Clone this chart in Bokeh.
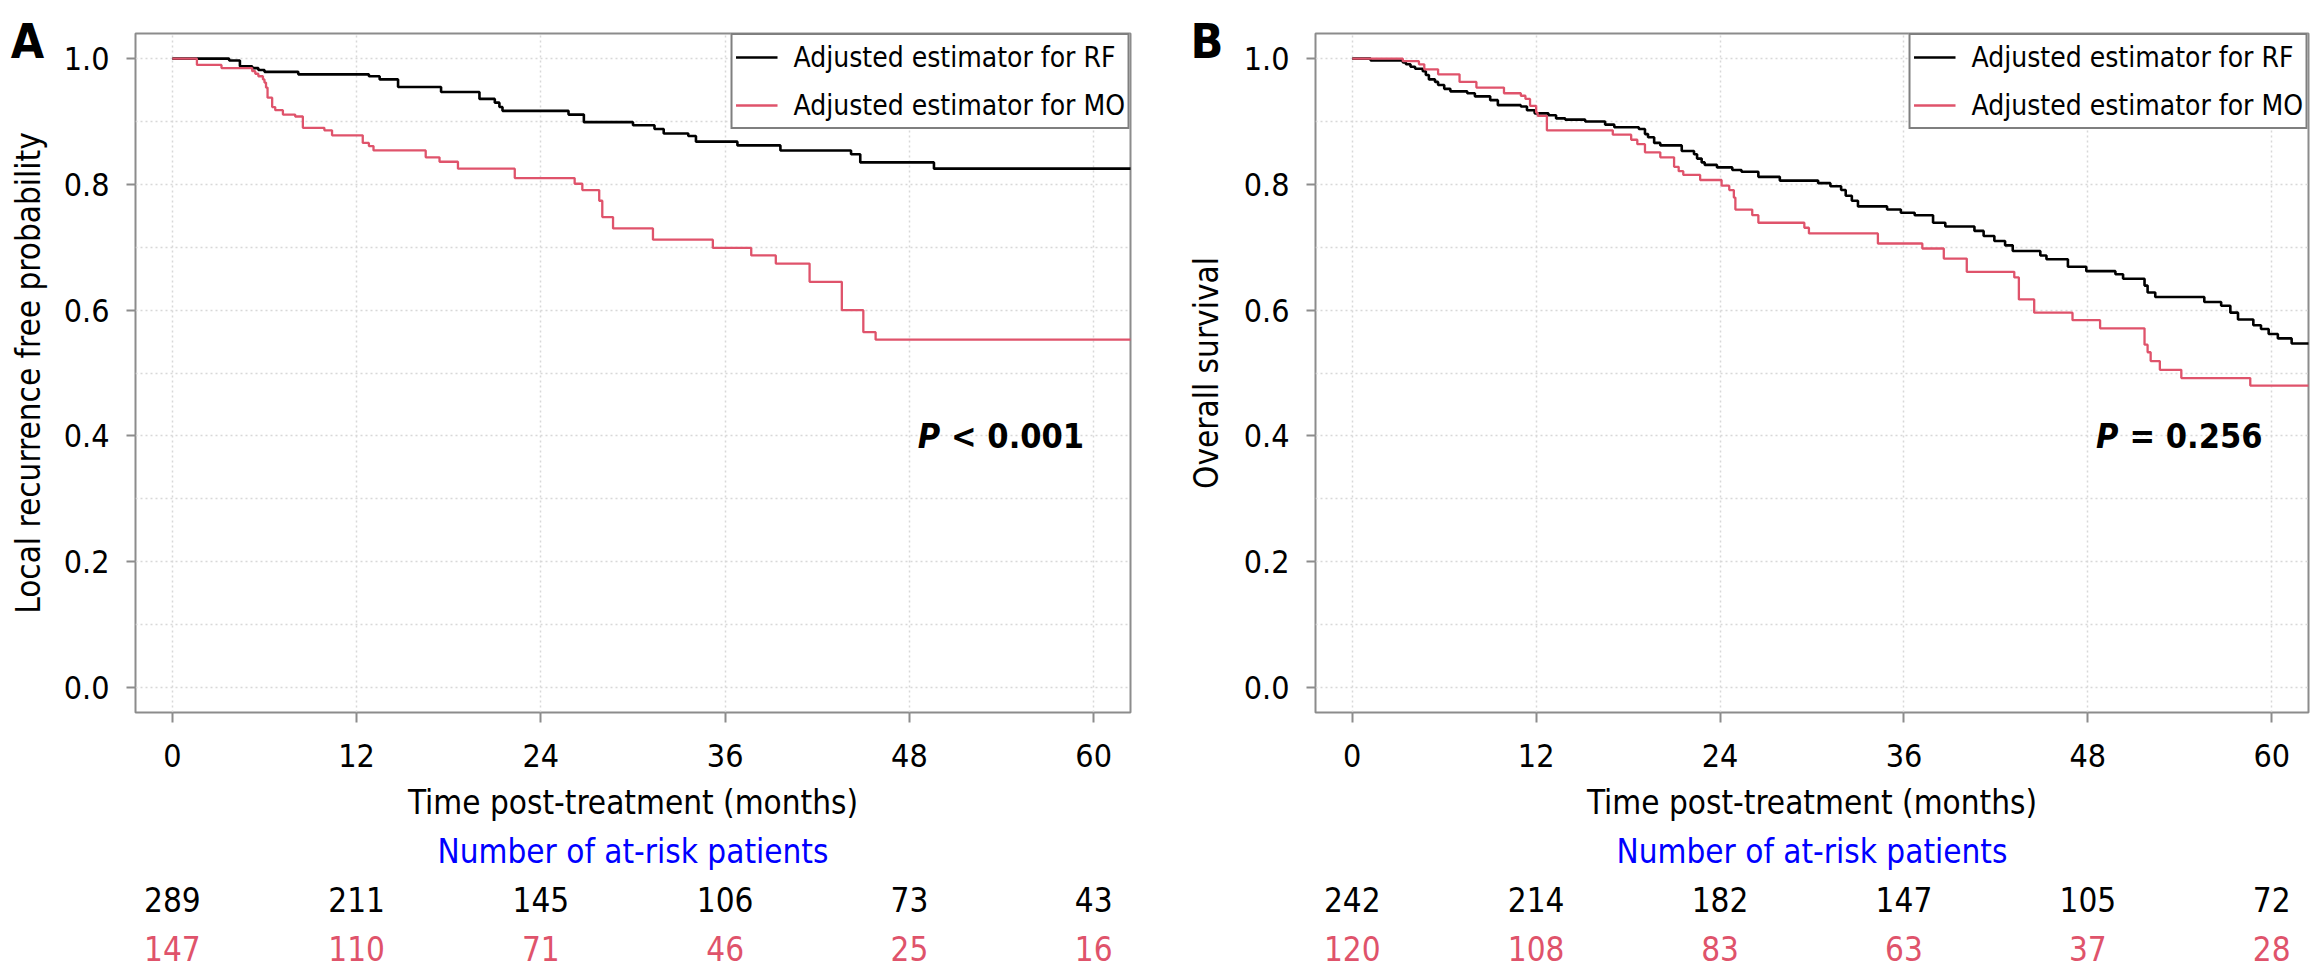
import numpy as np
from bokeh.plotting import figure
from bokeh.models import Range1d, FixedTicker, Label, Legend, LegendItem, PrintfTickFormatter
from bokeh.layouts import row, column
from bokeh.core.properties import value
from bokeh.embed import file_html
from bokeh.resources import INLINE

FONT = "DejaVu Sans Condensed, DejaVu Sans"
RED = "#DF536B"
GRAY = "#8C8C8C"

tick_months = [0, 12, 24, 36, 48, 60]
y_ticks = [0.0, 0.2, 0.4, 0.6, 0.8, 1.0]
y_grid = [0.0, 0.1, 0.2, 0.3, 0.4, 0.5, 0.6, 0.7, 0.8, 0.9, 1.0]

# ---- Panel A: local recurrence free probability ----
a_rf_t = [0, 3.7, 4.4, 5.2, 5.6, 6.0, 8.2, 12.8, 13.5, 14.7, 17.5, 20.0, 21.0, 21.3, 21.5,
          25.8, 26.8, 30.0, 31.4, 32.0, 33.6, 34.1, 36.8, 39.6, 44.2, 44.8, 49.6, 65]
a_rf_s = [1.0, 0.997, 0.988, 0.985, 0.982, 0.979, 0.975, 0.972, 0.967, 0.955, 0.947, 0.936, 0.930, 0.923, 0.917,
          0.911, 0.899, 0.894, 0.888, 0.881, 0.877, 0.868, 0.862, 0.854, 0.848, 0.835, 0.825, 0.825]
a_mo_t = [0, 1.6, 3.2, 5.2, 5.4, 5.6, 5.9, 6.0, 6.1, 6.2, 6.5, 6.7, 7.2, 8.0, 8.5, 9.9, 10.4, 12.4, 12.8,
          13.1, 16.5, 17.4, 18.6, 22.3, 26.2, 26.7, 27.8, 28.0, 28.7, 31.3, 35.2, 37.7, 39.3, 41.5, 43.6,
          45.0, 45.8, 65]
a_mo_s = [1.0, 0.990, 0.985, 0.980, 0.976, 0.972, 0.967, 0.962, 0.954, 0.938, 0.923, 0.918, 0.911, 0.908,
          0.890, 0.886, 0.878, 0.866, 0.861, 0.854, 0.843, 0.836, 0.825, 0.810, 0.801, 0.791, 0.774, 0.748,
          0.730, 0.712, 0.699, 0.687, 0.674, 0.645, 0.600, 0.565, 0.553, 0.553]
a_risk_rf = [289, 211, 145, 106, 73, 43]
a_risk_mo = [147, 110, 71, 46, 25, 16]

# ---- Panel B: overall survival ----
b_rf_t = [0, 1.2, 3.3, 3.5, 3.8, 4.1, 4.6, 4.8, 5.0, 5.4,
          5.6, 6.0, 6.4, 7.5, 8.0, 9.0, 9.5, 11.0, 11.4, 11.9,
          12.8, 13.3, 13.9, 15.2, 16.5, 17.1, 18.7, 19.1, 19.3, 19.7,
          20.1, 21.5, 22.3, 22.5, 22.8, 23.0, 23.8, 24.8, 25.4, 26.5,
          27.9, 30.4, 31.2, 31.9, 32.2, 32.6, 33.0, 34.9, 35.8, 36.7,
          37.9, 38.7, 40.6, 41.2, 41.9, 42.6, 43.1, 44.9, 45.3, 46.7,
          47.9, 49.8, 50.3, 51.7, 51.9, 52.4, 55.6, 56.7, 57.3, 57.8,
          58.8, 59.3, 59.8, 60.4, 61.3, 65]
b_rf_s = [1.0, 0.997, 0.994, 0.991, 0.987, 0.984, 0.980, 0.974, 0.967, 0.963,
          0.958, 0.952, 0.948, 0.945, 0.940, 0.934, 0.926, 0.924, 0.918, 0.913,
          0.910, 0.905, 0.903, 0.900, 0.895, 0.891, 0.888, 0.880, 0.875, 0.866,
          0.862, 0.853, 0.848, 0.841, 0.835, 0.831, 0.827, 0.823, 0.820, 0.812,
          0.806, 0.802, 0.797, 0.791, 0.782, 0.774, 0.765, 0.760, 0.755, 0.751,
          0.739, 0.733, 0.726, 0.718, 0.710, 0.703, 0.694, 0.687, 0.681, 0.669,
          0.662, 0.657, 0.650, 0.639, 0.628, 0.621, 0.613, 0.607, 0.596, 0.585,
          0.576, 0.570, 0.562, 0.555, 0.547, 0.547]
b_mo_t = [0, 3.3, 4.35, 4.7, 5.6, 7.0, 8.1, 9.9, 11.0, 11.3,
          11.6, 12.0, 12.1, 12.7, 17.0, 18.2, 18.6, 19.1, 20.1, 21.0,
          21.3, 21.6, 22.7, 24.1, 24.6, 24.9, 25.0, 26.1, 26.5, 29.5,
          29.8, 34.3, 37.2, 38.6, 40.1, 43.2, 43.5, 44.5, 47.0, 48.8,
          51.7, 51.9, 52.1, 52.7, 54.1, 58.6, 65]
b_mo_s = [1.0, 0.996, 0.991, 0.983, 0.975, 0.963, 0.954, 0.945, 0.941, 0.936,
          0.925, 0.914, 0.909, 0.886, 0.879, 0.871, 0.864, 0.851, 0.843, 0.828,
          0.821, 0.815, 0.807, 0.798, 0.791, 0.779, 0.760, 0.751, 0.739, 0.731,
          0.722, 0.706, 0.698, 0.682, 0.661, 0.652, 0.617, 0.596, 0.584, 0.571,
          0.545, 0.533, 0.519, 0.505, 0.492, 0.480, 0.480]
b_risk_rf = [242, 214, 182, 147, 105, 72]
b_risk_mo = [120, 108, 83, 63, 37, 28]

legend_labels = ["Adjusted estimator for RF", "Adjusted estimator for MO"]
xlabel = "Time post-treatment (months)"
risk_title = "Number of at-risk patients"

# ---- layout geometry (pixels) ----
H = 980
FRAME_TOP = 33
MAIN_H = 780
MAIN_BOTTOM = 68
TABLE_H = H - MAIN_H
Y0, Y1 = -0.04, 1.04
X0, X1 = -2.4, 62.4
PX_PER = (MAIN_H - MAIN_BOTTOM - FRAME_TOP) / (Y1 - Y0)
ROW0, ROW_STEP = 22.0, 48.67


def bare(fig):
    fig.outline_line_color = None
    fig.background_fill_color = "white"
    fig.border_fill_color = "white"
    fig.xgrid.visible = False
    fig.ygrid.visible = False
    return fig


def make_panel(letter, ylabel, rf_t, rf_s, mo_t, mo_s, risk_rf, risk_mo, ptext,
               panel_w, strip_w, frame_left, border_right, letter_x, ylabel_x):
    x_range = Range1d(X0, X1)
    main_w = panel_w - strip_w
    bl = frame_left - strip_w

    # --- left strip: panel letter and y axis title ---
    strip = bare(figure(width=strip_w, height=H, output_backend="svg", toolbar_location=None,
                        x_range=Range1d(0, strip_w),
                        y_range=Range1d(Y0 - (H - FRAME_TOP) / PX_PER + (Y1 - Y0),
                                        Y1 + FRAME_TOP / PX_PER),
                        x_axis_location=None, y_axis_location=None,
                        min_border_left=0, min_border_right=0, min_border_top=0, min_border_bottom=0))
    strip.text(x=[letter_x], y=[Y1 - 7 / PX_PER], text=[letter], text_font=value(FONT),
               text_font_size=value("48px"), text_font_style="bold", text_color="black",
               text_align="center", text_baseline="middle")
    strip.text(x=[ylabel_x], y=[(Y0 + Y1) / 2], text=[ylabel], angle=np.pi / 2, text_font=value(FONT),
               text_font_size=value("33px"), text_color="black",
               text_align="center", text_baseline="middle")

    # --- main plot ---
    p = figure(width=main_w, height=MAIN_H, x_range=x_range, y_range=Range1d(Y0, Y1),
               output_backend="svg", toolbar_location=None,
               min_border_left=bl, min_border_right=border_right,
               min_border_top=FRAME_TOP, min_border_bottom=MAIN_BOTTOM)
    p.background_fill_color = "white"
    p.border_fill_color = "white"
    p.outline_line_color = GRAY
    p.outline_line_width = 2

    p.xgrid.ticker = FixedTicker(ticks=tick_months)
    p.ygrid.ticker = FixedTicker(ticks=y_grid)
    for g in (p.xgrid, p.ygrid):
        g.grid_line_color = "#D8D8D8"
        g.grid_line_width = 1.5
        g.grid_line_dash = "2 3"

    for ax in (p.xaxis, p.yaxis):
        ax.axis_line_color = None
        ax.major_tick_line_color = GRAY
        ax.major_tick_line_width = 2
        ax.major_tick_in = 0
        ax.minor_tick_line_color = None
        ax.major_label_text_font = FONT
        ax.major_label_text_font_size = "32px"
        ax.major_label_text_color = "black"
    p.xaxis.ticker = FixedTicker(ticks=tick_months)
    p.xaxis.major_tick_out = 10
    p.xaxis.major_label_standoff = 21
    p.yaxis.ticker = FixedTicker(ticks=y_ticks)
    p.yaxis.formatter = PrintfTickFormatter(format="%.1f")
    p.yaxis.major_tick_out = 9
    p.yaxis.major_label_standoff = 17

    r1 = p.step(rf_t, rf_s, mode="after", line_color="black", line_width=2.6)
    r2 = p.step(mo_t, mo_s, mode="after", line_color=RED, line_width=2.3)

    legend = Legend(items=[LegendItem(label=legend_labels[0], renderers=[r1]),
                           LegendItem(label=legend_labels[1], renderers=[r2])],
                    location="top_right", margin=0, padding=3, spacing=10,
                    glyph_width=42, glyph_height=38, label_height=38, label_standoff=16,
                    label_text_font=FONT, label_text_font_size="28px", label_text_color="black",
                    border_line_color="black", border_line_width=2,
                    background_fill_color="white", background_fill_alpha=1.0)
    p.add_layout(legend)

    p.add_layout(Label(x=50.0, y=0.40, text="P", text_font=FONT, text_font_size="34px",
                       text_color="black", text_font_style="bold italic",
                       text_align="right", text_baseline="middle"))
    p.add_layout(Label(x=50.0, y=0.40, x_offset=11, text=ptext, text_font=FONT, text_font_size="34px",
                       text_color="black", text_font_style="bold",
                       text_align="left", text_baseline="middle"))

    # --- table below: x title and numbers at risk ---
    t = bare(figure(width=main_w, height=TABLE_H, x_range=x_range,
                    y_range=Range1d((TABLE_H - ROW0) / ROW_STEP, -ROW0 / ROW_STEP),
                    output_backend="svg", toolbar_location=None,
                    x_axis_location=None, y_axis_location=None,
                    min_border_left=bl, min_border_right=border_right,
                    min_border_top=0, min_border_bottom=0))
    mid = (tick_months[0] + tick_months[-1]) / 2
    t.text(x=[mid], y=[0], text=[xlabel], text_font=value(FONT), text_font_size=value("33px"),
           text_color="black", text_align="center", text_baseline="middle")
    t.text(x=[mid], y=[1], text=[risk_title], text_font=value(FONT), text_font_size=value("33px"),
           text_color="#0000FF", text_align="center", text_baseline="middle")
    t.text(x=tick_months, y=[2] * len(tick_months), text=[str(v) for v in risk_rf],
           text_font=value(FONT), text_font_size=value("33px"), text_color="black",
           text_align="center", text_baseline="middle")
    t.text(x=tick_months, y=[3] * len(tick_months), text=[str(v) for v in risk_mo],
           text_font=value(FONT), text_font_size=value("33px"), text_color=RED,
           text_align="center", text_baseline="middle")

    return row(strip, column(p, t))


panelA = make_panel("A", "Local recurrence free probability", a_rf_t, a_rf_s, a_mo_t, a_mo_s,
                    a_risk_rf, a_risk_mo, "< 0.001", 1160, 60, 135, 30, 27, 28)
panelB = make_panel("B", "Overall survival", b_rf_t, b_rf_s, b_mo_t, b_mo_s,
                    b_risk_rf, b_risk_mo, "= 0.256", 1154, 79, 155, 6, 46.5, 46)

layout = row(panelA, panelB)
open("out.html", "w").write(file_html(layout, INLINE))
